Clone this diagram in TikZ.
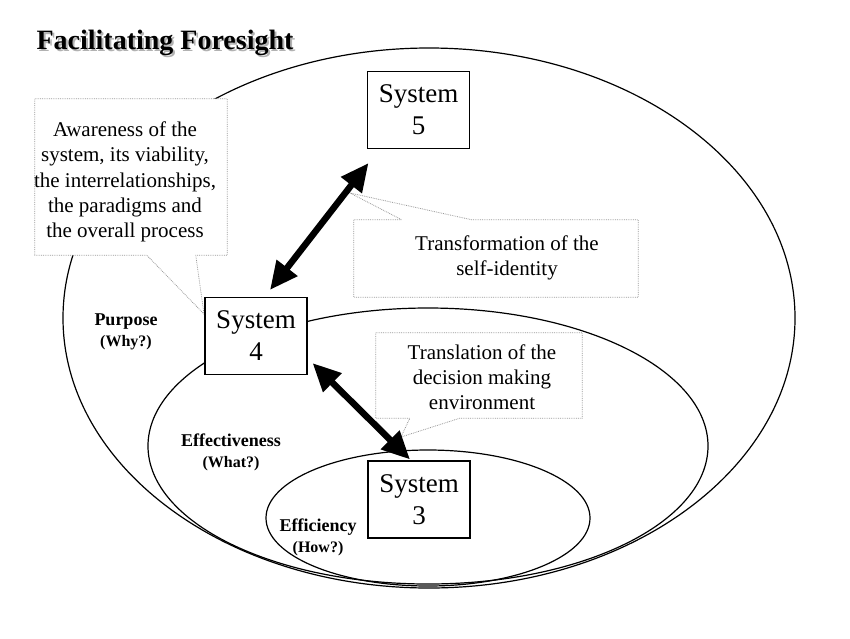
\documentclass[tikz,border=0pt]{standalone}
\usepackage{fontspec}
\setmainfont{Liberation Serif}
\usetikzlibrary{arrows.meta,calc}
\begin{document}
\begin{tikzpicture}[x=1pt,y=-1pt,
  sysbox/.style={draw,fill=white,line width=1.1pt,minimum width=102pt,minimum height=77pt,
    align=center,inner sep=0pt,font=\fontsize{27}{32}\selectfont},
  callbox/.style={draw=none,inner sep=0pt},
  callline/.style={draw=gray!80,fill=white,line width=0.8pt,densely dotted},
  calltext/.style={align=center,inner sep=0pt,font=\fontsize{21}{25.3}\selectfont},
  lbl/.style={align=center,inner sep=0pt,font=\bfseries\fontsize{18}{21}\selectfont},
  region/.style={line width=1.2pt},
  bigarrow/.style={line width=6.5pt,{Triangle[length=28pt,width=25pt]}-{Triangle[length=28pt,width=25pt]}},
  titlefont/.style={inner sep=0pt,font=\bfseries\fontsize{28}{32}\selectfont}
]
\useasboundingbox (0,0) rectangle (850,638);
\fill[white] (0,0) rectangle (850,638);

% title with shadow
\node[titlefont,text=gray!60] (tshadow) at (167,45) {Facilitating Foresight};
\node[titlefont] (title) at (165,43) {Facilitating Foresight};

% nested regions
\draw[region] (429,318) ellipse [x radius=366pt, y radius=270pt];
\draw[region] (428,446) ellipse [x radius=280pt, y radius=138pt];
\draw[region] (428,518) ellipse [x radius=162pt, y radius=68pt];

% region labels
\node[lbl] (purpose) at (126,332) {Purpose\\{\fontsize{16}{21}\selectfont (Why?)}};
\node[lbl] (effect) at (231,452) {Effectiveness\\{\fontsize{16}{21}\selectfont (What?)}};
\node[lbl] (effic) at (318,537) {Efficiency\\{\fontsize{16}{21}\selectfont (How?)}};

% callout: awareness
\node[callbox,minimum width=192pt,minimum height=156pt] (aw) at (131,177) {};
\coordinate (tipA) at (204,314);
\draw[callline] (aw.north west) -- (aw.north east) -- (aw.south east)
  -- ($(aw.south west)+(161,0)$) -- (tipA) -- ($(aw.south west)+(112,0)$)
  -- (aw.south west) -- cycle;
\node[calltext] (awt) at (125,182) {Awareness of the\\system, its viability,\\the interrelationships,\\the paradigms and\\the overall process};

% callout: transformation
\node[callbox,minimum width=284pt,minimum height=77pt] (tr) at (496,258.5) {};
\coordinate (tipT) at (350,193);
\draw[callline] (tr.north west) -- ($(tr.north west)+(48,0)$) -- (tipT)
  -- ($(tr.north west)+(118,0)$) -- (tr.north east) -- (tr.south east)
  -- (tr.south west) -- cycle;
\node[calltext] (trt) at (507,258) {Transformation of the\\self-identity};

% callout: translation
\node[callbox,minimum width=206pt,minimum height=85pt] (tl) at (479,375.5) {};
\coordinate (tipL) at (401,437);
\draw[callline] (tl.north west) -- (tl.north east) -- (tl.south east)
  -- ($(tl.south west)+(84,0)$) -- (tipL) -- ($(tl.south west)+(34,0)$)
  -- (tl.south west) -- cycle;
\node[calltext] (tlt) at (482,377) {Translation of the\\decision making\\environment};

% systems
\node[sysbox] (s5) at (418.5,110) {System\\5};
\node[sysbox] (s4) at (256,336) {System\\4};
\node[sysbox] (s3) at (419,499.5) {System\\3};

% arrows
\draw[bigarrow] ($(s4.north)+(14,-7)$) -- ($(s5.south)+(-50,14)$);
\draw[bigarrow] ($(s4.south east)+(5,-12)$) -- ($(s3.north)+(-9,-1)$);
\end{tikzpicture}
\end{document}
